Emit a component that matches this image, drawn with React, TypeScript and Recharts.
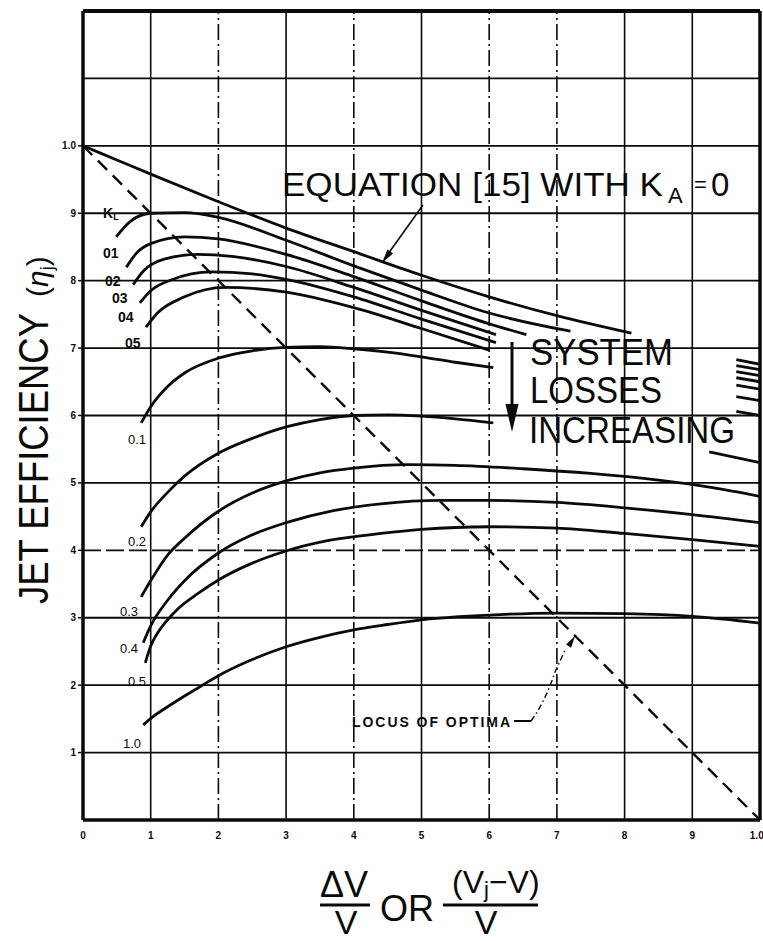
import { LineChart, Line, XAxis, YAxis, ReferenceLine } from "recharts";

type Pt = [number, number | null];

// axis ticks
const xTicks = [0, 0.1, 0.2, 0.3, 0.4, 0.5, 0.6, 0.7, 0.8, 0.9, 1.0];
const yTicks = [0.1, 0.2, 0.3, 0.4, 0.5, 0.6, 0.7, 0.8, 0.9, 1.0];
const gridX = [0.1, 0.2, 0.3, 0.4, 0.5, 0.6, 0.7, 0.8, 0.9];
const brokenGridX = [0.2, 0.4, 0.6, 0.7];
const gridY = [0.1, 0.2, 0.3, 0.4, 0.5, 0.6, 0.7, 0.8, 0.9, 1.0, 1.1];
const brokenGridY = [0.4];

// equation [15] with K_A = 0 (nulls = hidden behind the label)
const equation15: Pt[] = [
  [0, 1.0], [0.05, 0.979], [0.1, 0.958], [0.2, 0.917], [0.3, 0.878], [0.4, 0.843],
  [0.5, 0.808], [0.6, 0.776], [0.7, 0.748], [0.81, 0.722], [0.89, null], [0.965, 0.683], [1.0, 0.676],
];

// upper family, K_L = .01 ... .05
const upperKL01: Pt[] = [
  [0.049, 0.865], [0.07, 0.888], [0.1, 0.9], [0.15, 0.901], [0.2, 0.894], [0.3, 0.86],
  [0.4, 0.822], [0.5, 0.786], [0.6, 0.752], [0.72, 0.725], [0.85, null], [0.965, 0.674], [1.0, 0.668],
];
const upperKL02: Pt[] = [
  [0.064, 0.82], [0.08, 0.842], [0.1, 0.855], [0.15, 0.865], [0.2, 0.862], [0.3, 0.839],
  [0.4, 0.806], [0.5, 0.77], [0.6, 0.736], [0.655, 0.72], [0.8, null], [0.965, 0.665], [1.0, 0.659],
];
const upperKL03: Pt[] = [
  [0.074, 0.794], [0.09, 0.815], [0.12, 0.832], [0.17, 0.839], [0.22, 0.836], [0.3, 0.821],
  [0.4, 0.79], [0.5, 0.756], [0.61, 0.72], [0.8, null], [0.965, 0.656], [1.0, 0.65],
];
const upperKL04: Pt[] = [
  [0.084, 0.767], [0.1, 0.785], [0.13, 0.801], [0.19, 0.813], [0.25, 0.81], [0.3, 0.802],
  [0.4, 0.776], [0.5, 0.743], [0.61, 0.708], [0.8, null], [0.965, 0.645], [1.0, 0.639],
];
const upperKL05: Pt[] = [
  [0.093, 0.731], [0.11, 0.752], [0.15, 0.776], [0.21, 0.79], [0.3, 0.783], [0.4, 0.76],
  [0.5, 0.729], [0.6, 0.697], [0.8, null], [0.965, 0.628], [1.0, 0.622],
];

// lower family, K_L = .1 ... 1.0
const lowerKL1: Pt[] = [
  [0.086, 0.589], [0.1, 0.613], [0.125, 0.643], [0.15, 0.663], [0.2, 0.685], [0.25, 0.696],
  [0.3, 0.701], [0.35, 0.702], [0.4, 0.699], [0.45, 0.694], [0.5, 0.687], [0.55, 0.679],
  [0.606, 0.671], [0.8, null], [0.965, 0.606], [1.0, 0.6],
];
const lowerKL2: Pt[] = [
  [0.086, 0.435], [0.1, 0.457], [0.125, 0.486], [0.15, 0.51], [0.2, 0.544], [0.25, 0.566],
  [0.3, 0.583], [0.35, 0.594], [0.4, 0.6], [0.45, 0.601], [0.5, 0.599], [0.55, 0.595],
  [0.606, 0.589], [0.8, null], [0.925, 0.546], [1.0, 0.53],
];
const lowerKL3: Pt[] = [
  [0.086, 0.331], [0.103, 0.36], [0.125, 0.393], [0.15, 0.418], [0.2, 0.458], [0.25, 0.485],
  [0.3, 0.503], [0.35, 0.515], [0.4, 0.522], [0.48, 0.527], [0.55, 0.526], [0.65, 0.521],
  [0.75, 0.514], [0.85, 0.504], [0.93, 0.493], [1.0, 0.48],
];
const lowerKL4: Pt[] = [
  [0.089, 0.263], [0.1, 0.288], [0.125, 0.326], [0.15, 0.355], [0.2, 0.396], [0.25, 0.423],
  [0.3, 0.441], [0.37, 0.459], [0.44, 0.469], [0.53, 0.474], [0.6, 0.474], [0.7, 0.471],
  [0.8, 0.463], [0.9, 0.453], [1.0, 0.441],
];
const lowerKL5: Pt[] = [
  [0.092, 0.233], [0.1, 0.258], [0.11, 0.277], [0.125, 0.297], [0.14, 0.313], [0.17, 0.336],
  [0.2, 0.356], [0.25, 0.381], [0.3, 0.399], [0.365, 0.415], [0.44, 0.425], [0.5, 0.431],
  [0.6, 0.435], [0.7, 0.433], [0.8, 0.425], [0.9, 0.416], [1.0, 0.406],
];
const lowerKL10: Pt[] = [
  [0.089, 0.141], [0.103, 0.153], [0.125, 0.168], [0.15, 0.184], [0.175, 0.199], [0.2, 0.214],
  [0.25, 0.238], [0.3, 0.257], [0.35, 0.271], [0.4, 0.282], [0.45, 0.29], [0.5, 0.297],
  [0.6, 0.304], [0.7, 0.307], [0.8, 0.306], [0.9, 0.302], [1.0, 0.292],
];

// locus of optima
const locusOfOptima: Pt[] = [[0, 1.0], [1.0, 0]];

const curves = [
  { name: "Equation 15", pts: equation15 },
  { name: "KL .01", pts: upperKL01 },
  { name: "KL .02", pts: upperKL02 },
  { name: "KL .03", pts: upperKL03 },
  { name: "KL .04", pts: upperKL04 },
  { name: "KL .05", pts: upperKL05 },
  { name: "KL 0.1", pts: lowerKL1 },
  { name: "KL 0.2", pts: lowerKL2 },
  { name: "KL 0.3", pts: lowerKL3 },
  { name: "KL 0.4", pts: lowerKL4 },
  { name: "KL 0.5", pts: lowerKL5 },
  { name: "KL 1.0", pts: lowerKL10 },
];

const toRows = (pts: Pt[]) => pts.map(([x, y]) => ({ x, y }));

const FONT = "'Liberation Sans', Arial, sans-serif";
const INK = "#0a0a0a";

const fmtX = (v: number) => (v === 0 ? "0" : v >= 1 ? "1.0" : String(Math.round(v * 10)));
const fmtY = (v: number) => (v >= 1 ? "1.0" : String(Math.round(v * 10)));

function Overlay() {
  return (
    <svg
      width={763}
      height={941}
      style={{ position: "absolute", left: 0, top: 0, pointerEvents: "none" }}
      fontFamily={FONT}
      fill={INK}
    >
      {/* upper family labels */}
      <text x={103} y={218} fontSize={14} fontWeight={700}>
        K<tspan fontSize={9} dy={2}>L</tspan>
      </text>
      <text x={103} y={258} fontSize={14} fontWeight={700}>01</text>
      <text x={105} y={286} fontSize={14} fontWeight={700}>02</text>
      <text x={112} y={303} fontSize={14} fontWeight={700}>03</text>
      <text x={118} y={322} fontSize={14} fontWeight={700}>04</text>
      <text x={125} y={348} fontSize={14} fontWeight={700}>05</text>

      {/* lower family labels */}
      <text x={128} y={444} fontSize={13}>0.1</text>
      <text x={128} y={546} fontSize={13}>0.2</text>
      <text x={120} y={616} fontSize={13}>0.3</text>
      <text x={120} y={653} fontSize={13}>0.4</text>
      <text x={128} y={686} fontSize={13}>0.5</text>
      <text x={123} y={748} fontSize={13}>1.0</text>

      {/* equation label */}
      <text x={282} y={196} fontSize={33} textLength={381} lengthAdjust="spacingAndGlyphs">
        EQUATION [15] WITH K
      </text>
      <text x={668} y={203} fontSize={22}>A</text>
      <text x={694} y={192} fontSize={22}>=</text>
      <text x={711} y={196} fontSize={33}>0</text>
      <line x1={423} y1={205} x2={388} y2={254} stroke={INK} strokeWidth={1.6} />
      <polygon points="382,263 393,253.6 387.4,249.6" />

      {/* system losses */}
      <text x={530} y={365} fontSize={36} textLength={143} lengthAdjust="spacingAndGlyphs">SYSTEM</text>
      <text x={530} y={403} fontSize={36} textLength={132} lengthAdjust="spacingAndGlyphs">LOSSES</text>
      <text x={529} y={443} fontSize={36} textLength={206} lengthAdjust="spacingAndGlyphs">INCREASING</text>
      <line x1={512} y1={342} x2={512} y2={410} stroke={INK} strokeWidth={3} />
      <polygon points="505.5,404 518.5,404 512,432" />

      {/* locus label */}
      <text x={352} y={727} fontSize={14} fontWeight={700} textLength={158} lengthAdjust="spacing">
        LOCUS OF OPTIMA
      </text>
      <line x1={514} y1={721} x2={531} y2={721} stroke={INK} strokeWidth={2} />
      <path d="M531 721 Q545 702 555 672 L566 648" fill="none" stroke={INK} strokeWidth={1.4} strokeDasharray="6 3 1.5 3" />
      <polygon points="575,636 571.1,647.7 566.1,644.5" />

      {/* y axis title */}
      <text
        transform="translate(48,604) rotate(-90)"
        fontSize={43}
        textLength={291}
        lengthAdjust="spacingAndGlyphs"
      >
        JET EFFICIENCY
      </text>
      <text transform="translate(48,297) rotate(-90)" fontSize={30}>
        (<tspan fontStyle="italic">η</tspan>
        <tspan fontSize={18} dy={5}>j</tspan>
        <tspan dy={-5}>)</tspan>
      </text>

      {/* x axis title */}
      <text x={344} y={897} fontSize={36} textAnchor="middle">ΔV</text>
      <line x1={320} y1={905} x2={370} y2={905} stroke={INK} strokeWidth={3} />
      <text x={346} y={934} fontSize={34} textAnchor="middle">V</text>
      <text x={380} y={921} fontSize={36}>OR</text>
      <text x={452} y={893} fontSize={32}>
        (V<tspan fontSize={22} dy={4}>j</tspan>
        <tspan dy={-4}>−V)</tspan>
      </text>
      <line x1={443} y1={905} x2={538} y2={905} stroke={INK} strokeWidth={3} />
      <text x={486} y={934} fontSize={34} textAnchor="middle">V</text>
    </svg>
  );
}

export default function App() {
  return (
    <div style={{ position: "absolute", left: 0, top: 0, width: 763, height: 941, background: "#fff" }}>
      <LineChart width={763} height={941} margin={{ top: 11, right: 3, bottom: 0, left: 0 }}>
        <XAxis
          type="number"
          dataKey="x"
          domain={[0, 1]}
          ticks={xTicks}
          tickFormatter={fmtX}
          height={121}
          axisLine={{ stroke: INK, strokeWidth: 3.5 }}
          tickLine={false}
          tickMargin={6}
          tick={{ fill: INK, fontSize: 10, fontWeight: 700, fontFamily: FONT }}
          allowDataOverflow
        />
        <YAxis
          type="number"
          domain={[0, 1.2]}
          ticks={yTicks}
          tickFormatter={fmtY}
          width={83}
          axisLine={{ stroke: INK, strokeWidth: 3.5 }}
          tickLine={{ stroke: INK, strokeWidth: 1.5 }}
          tickSize={5}
          tick={{ fill: INK, fontSize: 10, fontWeight: 700, fontFamily: FONT }}
          allowDataOverflow
        />
        {gridY.map((v) => (
          <ReferenceLine
            key={`gy${v}`}
            y={v}
            stroke={INK}
            strokeWidth={1.8}
            strokeDasharray={brokenGridY.includes(v) ? "18 5" : undefined}
          />
        ))}
        {gridX.map((v) => (
          <ReferenceLine
            key={`gx${v}`}
            x={v}
            stroke={INK}
            strokeWidth={1.6}
            strokeDasharray={brokenGridX.includes(v) ? "16 4 2 4" : undefined}
          />
        ))}
        <ReferenceLine y={1.2} stroke={INK} strokeWidth={4} />
        <ReferenceLine x={1.0} stroke={INK} strokeWidth={3.5} />
        <Line
          data={toRows(locusOfOptima)}
          dataKey="y"
          name="Locus of optima"
          type="linear"
          stroke={INK}
          strokeWidth={2.4}
          strokeDasharray="13 8"
          dot={false}
          activeDot={false}
          isAnimationActive={false}
        />
        {curves.map((c) => (
          <Line
            key={c.name}
            data={toRows(c.pts)}
            dataKey="y"
            name={c.name}
            type="monotone"
            stroke={INK}
            strokeWidth={2.8}
            dot={false}
            activeDot={false}
            connectNulls={false}
            isAnimationActive={false}
          />
        ))}
      </LineChart>
      <Overlay />
    </div>
  );
}
